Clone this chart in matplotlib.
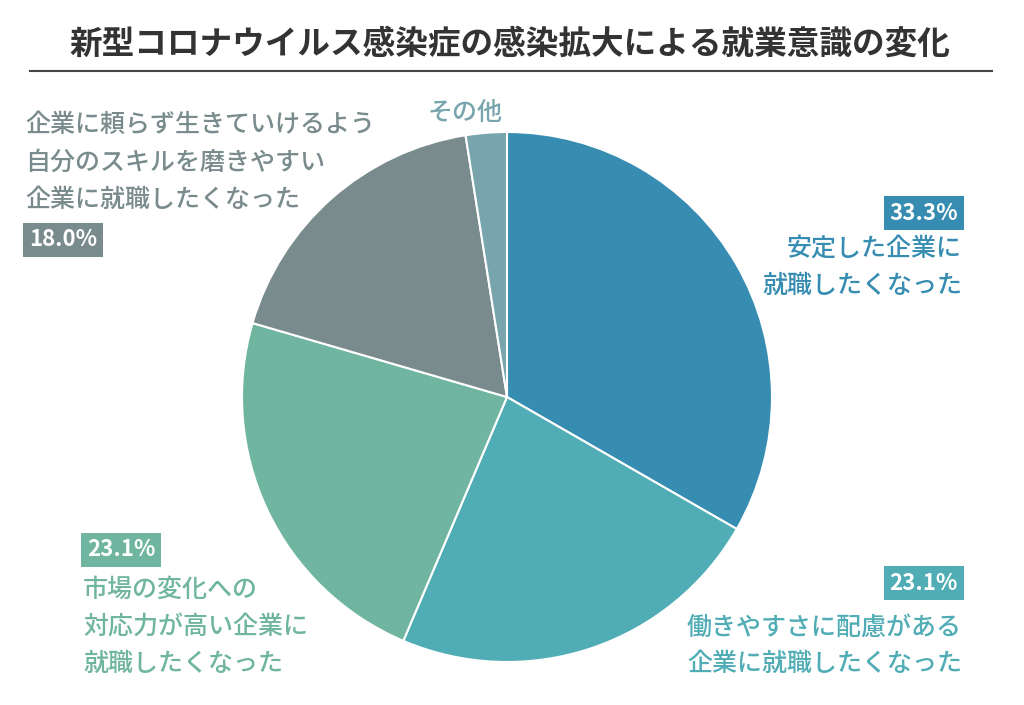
import matplotlib
matplotlib.use("Agg")
import matplotlib.pyplot as plt

plt.rcParams['font.family'] = 'Noto Sans CJK JP'

title = "新型コロナウイルス感染症の感染拡大による就業意識の変化"
values = [33.3, 23.1, 23.1, 18.0, 2.5]
pct_labels = ["33.3%", "23.1%", "23.1%", "18.0%", None]
texts = [["安定した企業に", "就職したくなった"],
         ["働きやすさに配慮がある", "企業に就職したくなった"],
         ["市場の変化への", "対応力が高い企業に", "就職したくなった"],
         ["企業に頼らず生きていけるよう", "自分のスキルを磨きやすい", "企業に就職したくなった"],
         ["その他"]]
colors = ["#378db1", "#51adb5", "#6fb5a0", "#798b8c", "#78a5ad"]

W, H = 1024, 705
fig = plt.figure(figsize=(W/100, H/100), dpi=100)
ax = fig.add_axes([0, 0, 1, 1])
ax.set_xlim(0, W); ax.set_ylim(0, H); ax.axis('off'); ax.set_aspect('equal')

ax.pie(values, colors=colors, startangle=90, counterclock=False,
       center=(507, H-397), radius=265,
       wedgeprops=dict(edgecolor='white', linewidth=1.5))
ax.set_xlim(0, W); ax.set_ylim(0, H)

ax.text(510, H-44, title, ha='center', va='center', fontsize=23.5, fontweight='bold', color='#333333')
ax.plot([30, 992], [H-71, H-71], color='#444444', lw=1.5)

layout = [
    (962, 'right', 213, [249, 286]),
    (962, 'right', 583, [628, 664]),
    (83, 'left', 550, [590, 628, 664]),
    (25, 'left', 240, [125, 163, 200]),
    (465, 'center', 113, [113]),
]
for i, (x, ha, by, tys) in enumerate(layout):
    c = colors[i]
    if pct_labels[i]:
        ax.text(x - (4 if ha == 'right' else -4), H-by, pct_labels[i], ha=ha, va='center',
                fontsize=16, fontweight='bold', color='white',
                bbox=dict(boxstyle='square,pad=0.25', fc=c, ec='none'))
    for t, ty in zip(texts[i], tys):
        ax.text(x, H-ty, t, ha=ha, va='center', fontsize=18, fontweight='medium', color=c)

fig.savefig("out.png", dpi=100)
